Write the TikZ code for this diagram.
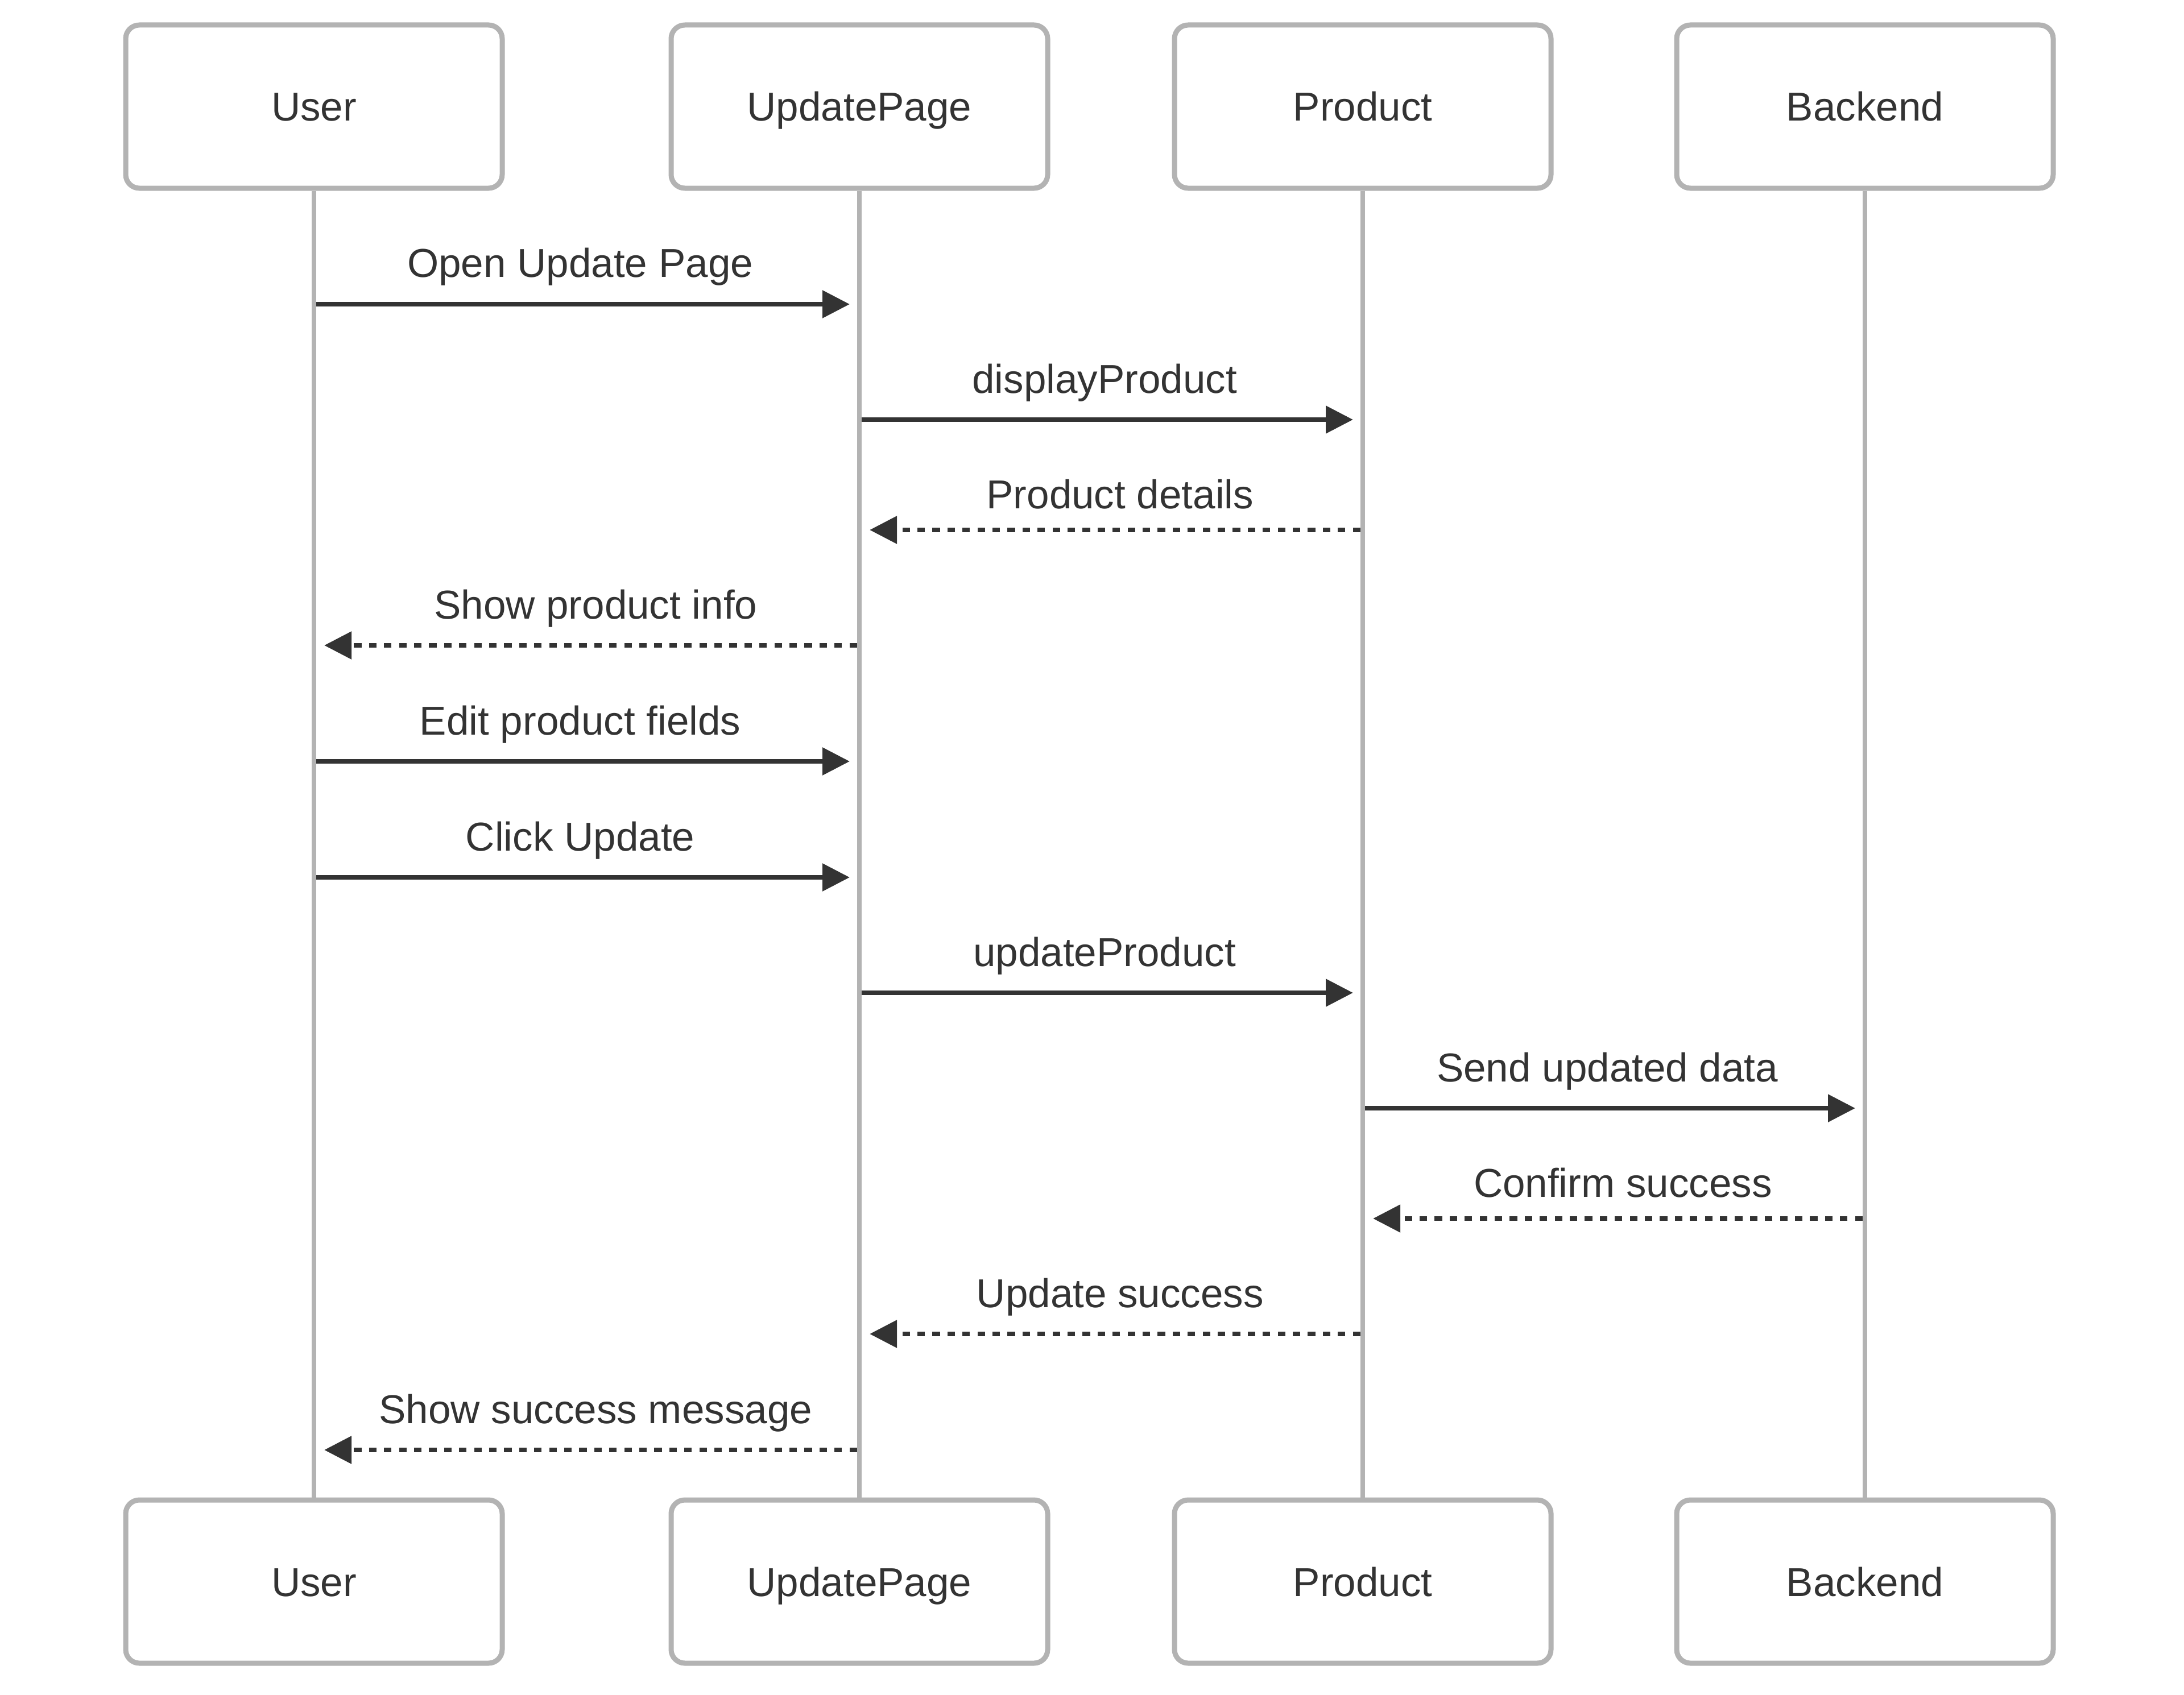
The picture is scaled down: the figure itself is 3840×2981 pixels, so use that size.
\documentclass[tikz,border=0pt]{standalone}
\usepackage{fontspec}
\setmainfont{Liberation Sans}
\usetikzlibrary{arrows.meta,calc}
\definecolor{boxgray}{HTML}{B3B3B3}
\definecolor{ink}{HTML}{333333}
\tikzset{
  lblfont/.style={font=\fontsize{71pt}{85pt}\selectfont},
  actorbox/.style={draw=boxgray, line width=9pt, fill=white, rounded corners=24pt,
    minimum width=662pt, minimum height=287pt, inner sep=0pt, text=ink,
    text height=51pt, text depth=0pt, lblfont},
  lifeline/.style={draw=boxgray, line width=8.6pt},
  msgline/.style={draw=ink, line width=8.8pt, line cap=butt, -{Triangle[length=48pt,width=47pt]}},
  solidmsg/.style={msgline},
  dashmsg/.style={msgline, dash pattern=on 13.2pt off 13.2pt},
  msglabel/.style={text=ink, lblfont, anchor=base, inner sep=0pt}
}
% #1 from, #2 to, #3 arrow y, #4 label raise, #5 label
\newcommand\sendmsg[5]{%
  \draw[solidmsg] ($(#1.south |- 0,#3)+(4.3,0)$) -- ($(#2.south |- 0,#3)+(-17,0)$)
    node[msglabel, midway, yshift=#4pt, xshift=-5pt] {#5};}
\newcommand\replymsg[5]{%
  \draw[dashmsg] ($(#1.south |- 0,#3)+(-4.3,0)$) -- ($(#2.south |- 0,#3)+(18,0)$)
    node[msglabel, midway, yshift=#4pt, xshift=9pt] {#5};}
\begin{document}
\begin{tikzpicture}[x=1pt,y=-1pt]
\useasboundingbox (0,0) rectangle (3840,2981);
\fill[white] (0,0) rectangle (3840,2981);
% actors (top)
\node[actorbox] (U)  at (552,187.5)  {User};
\node[actorbox] (P)  at (1511,187.5) {UpdatePage};
\node[actorbox] (Pr) at (2396,187.5) {Product};
\node[actorbox] (B)  at (3279,187.5) {Backend};
% actors (bottom)
\node[actorbox] (Ub)  at (552,2781.5)  {User};
\node[actorbox] (Pb)  at (1511,2781.5) {UpdatePage};
\node[actorbox] (Prb) at (2396,2781.5) {Product};
\node[actorbox] (Bb)  at (3279,2781.5) {Backend};
% lifelines
\draw[lifeline] (U.south) -- (Ub.north);
\draw[lifeline] (P.south) -- (Pb.north);
\draw[lifeline] (Pr.south) -- (Prb.north);
\draw[lifeline] (B.south) -- (Bb.north);
% messages
\sendmsg{U}{P}{535}{48}{Open Update Page}
\sendmsg{P}{Pr}{738}{47}{displayProduct}
\replymsg{Pr}{P}{932}{38}{Product details}
\replymsg{P}{U}{1135}{47}{Show product info}
\sendmsg{U}{P}{1339}{47}{Edit product fields}
\sendmsg{U}{P}{1543}{47}{Click Update}
\sendmsg{P}{Pr}{1746}{47}{updateProduct}
\sendmsg{Pr}{B}{1949}{47}{Send updated data}
\replymsg{B}{Pr}{2143}{38}{Confirm success}
\replymsg{Pr}{P}{2346}{47}{Update success}
\replymsg{P}{U}{2550}{47}{Show success message}
\end{tikzpicture}
\end{document}
